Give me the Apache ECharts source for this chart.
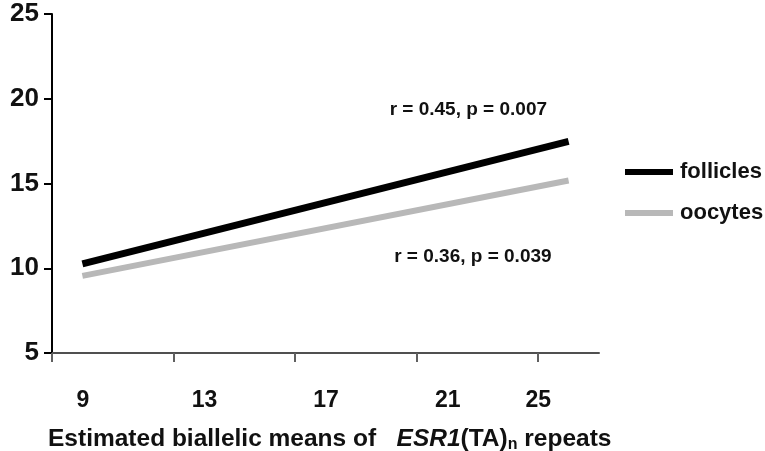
<!DOCTYPE html>
<html>
<head>
<meta charset="utf-8">
<title>ESR1 (TA)n repeats</title>
<script src="https://cdn.jsdelivr.net/npm/echarts@6/dist/echarts.min.js"></script>
<style>
  html, body { margin: 0; padding: 0; background: #fff; }
  #chart { width: 765px; height: 451px; }
</style>
</head>
<body>
<div id="chart"></div>
<script>
// Regression lines: estimated biallelic mean of ESR1 (TA)n repeats vs. count
const repeatRange = [9, 25];
const folliclesFit = [10.26, 17.48];
const oocytesFit = [9.55, 15.18];

const seriesNames = ['follicles', 'oocytes'];
const seriesColors = ['#000000', '#b8b8b8'];
const seriesWidths = [7, 6];
const fitStats = ['r = 0.45, p = 0.007', 'r = 0.36, p = 0.039'];
// where each statistics note sits, in data units [x, y]
const statAnchors = [[21.7, 19.35], [21.85, 10.65]];

const yTicks = [5, 10, 15, 20, 25];

const FONT = '"Liberation Sans", Arial, sans-serif';

function pairs(xs, ys) {
  return xs.map((x, i) => [x, ys[i]]);
}

const chart = echarts.init(document.getElementById('chart'), null, { renderer: 'canvas' });

chart.setOption({
  animation: false,
  backgroundColor: '#ffffff',
  grid: {
    left: 52, top: 14, width: 547, height: 339,
    containLabel: false,
    outerBoundsMode: 'none'
  },
  xAxis: {
    type: 'value',
    min: 8,
    max: 26,
    interval: 4,
    splitLine: { show: false },
    axisLine: { show: true, onZero: false, lineStyle: { color: '#505050', width: 2 } },
    axisTick: { show: true, inside: false, length: 9, lineStyle: { color: '#606060', width: 2 } },
    axisLabel: {
      showMinLabel: true,
      showMaxLabel: false,
      margin: 36,
      fontFamily: FONT,
      fontWeight: 'bold',
      fontSize: 23,
      color: '#111',
      // the repeat labels sit one unit to the right of each tick
      formatter: v => (v + 4 > 26 ? '{e|' + (v + 1) + '}' : '{m|' + (v + 1) + '}'),
      rich: {
        m: { fontFamily: FONT, fontWeight: 'bold', fontSize: 23, color: '#111', padding: [0, 0, 0, 62] },
        e: { fontFamily: FONT, fontWeight: 'bold', fontSize: 23, color: '#111', padding: [0, 0, 0, 0] }
      }
    },
    name: '{b|Estimated biallelic means of   }{i|ESR1}{b|(TA)}{s|n}{b| repeats}',
    nameLocation: 'start',
    nameGap: 0,
    nameTextStyle: {
      align: 'left',
      verticalAlign: 'top',
      padding: [72, 0, 0, -4],
      rich: {
        b: { fontFamily: FONT, fontWeight: 'bold', fontSize: 24.5, color: '#111' },
        i: { fontFamily: FONT, fontWeight: 'bold', fontStyle: 'italic', fontSize: 24.5, color: '#111' },
        s: { fontFamily: FONT, fontWeight: 'bold', fontSize: 16, color: '#111', padding: [12, 0, 0, 0] }
      }
    }
  },
  yAxis: {
    type: 'value',
    min: yTicks[0],
    max: yTicks[yTicks.length - 1],
    interval: 5,
    splitLine: { show: false },
    axisLine: { show: true, onZero: false, lineStyle: { color: '#000', width: 2 } },
    axisTick: { show: true, inside: false, length: 8, lineStyle: { color: '#000', width: 2 } },
    axisLabel: {
      margin: 13,
      fontFamily: FONT,
      fontWeight: 'bold',
      fontSize: 26,
      color: '#111'
    }
  },
  legend: {
    orient: 'vertical',
    left: 620,
    top: 156,
    itemWidth: 48,
    itemHeight: 6,
    itemGap: 19,
    icon: 'rect',
    textStyle: { fontFamily: FONT, fontWeight: 'bold', fontSize: 22, color: '#111', padding: [0, 0, 0, 2] },
    data: seriesNames
  },
  series: seriesNames.map((name, k) => ({
    name: name,
    type: 'line',
    symbol: 'none',
    data: pairs(repeatRange, k === 0 ? folliclesFit : oocytesFit),
    lineStyle: { color: seriesColors[k], width: seriesWidths[k], cap: 'butt' },
    itemStyle: { color: seriesColors[k] },
    markPoint: {
      symbol: 'rect',
      symbolSize: 0,
      silent: true,
      label: {
        show: true,
        position: 'inside',
        fontFamily: FONT,
        fontWeight: 'bold',
        fontSize: 19,
        color: '#111',
        formatter: fitStats[k]
      },
      data: [{ coord: statAnchors[k] }]
    }
  }))
});
</script>
</body>
</html>
